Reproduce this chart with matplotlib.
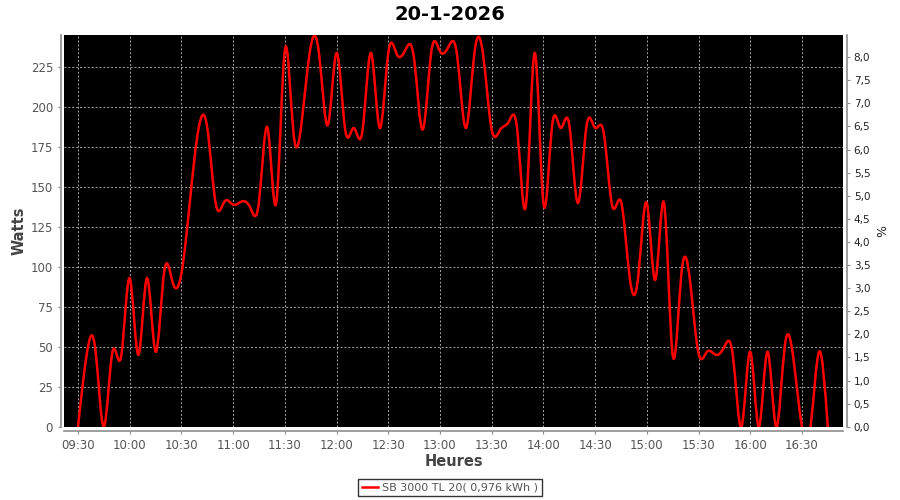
import numpy as np
import matplotlib
matplotlib.use("Agg")
import matplotlib.pyplot as plt
from matplotlib.path import Path
from matplotlib.patches import PathPatch
from matplotlib.lines import Line2D
from matplotlib.ticker import FixedLocator, FixedFormatter

# ---------------- data ----------------
title = "20-1-2026"
series_label = "SB 3000 TL 20( 0,976 kWh )"
x_label = "Heures"
y_label = "Watts"
y2_label = "%"

times = ["09:30", "09:35", "09:40", "09:45", "09:50", "09:55",
         "10:00", "10:05", "10:10", "10:15", "10:20", "10:25",
         "10:30", "10:35", "10:40", "10:45", "10:50", "10:55",
         "11:00", "11:05", "11:10", "11:15", "11:20", "11:25",
         "11:30", "11:35", "11:40", "11:45", "11:50", "11:55",
         "12:00", "12:05", "12:10", "12:15", "12:20", "12:25",
         "12:30", "12:35", "12:40", "12:45", "12:50", "12:55",
         "13:00", "13:05", "13:10", "13:15", "13:20", "13:25",
         "13:30", "13:35", "13:40", "13:45", "13:50", "13:55",
         "14:00", "14:05", "14:10", "14:15", "14:20", "14:25",
         "14:30", "14:35", "14:40", "14:45", "14:50", "14:55",
         "15:00", "15:05", "15:10", "15:15", "15:20", "15:25",
         "15:30", "15:35", "15:40", "15:45", "15:50", "15:55",
         "16:00", "16:05", "16:10", "16:15", "16:20", "16:25",
         "16:30", "16:35", "16:40", "16:45"]

watts = [0, 45, 49, 0, 47, 44,
         93, 45, 93, 47, 97, 90,
         96, 142, 187, 187, 139, 141,
         139, 141, 137, 141, 187, 140,
         236, 184, 193, 238, 232, 189,
         234, 186, 187, 185, 234, 187,
         234, 233, 236, 230, 186, 235,
         235, 238, 232, 187, 234, 233,
         186, 186, 191, 184, 140, 234,
         140, 188, 187, 189, 140, 188,
         187, 184, 138, 141, 94, 94,
         140, 92, 140, 45, 95, 92,
         46, 47, 45, 50, 44, 0,
         47, 0, 47, 0, 50, 43,
         0, 0, 47, 0]

x_tick_labels = ["09:30", "10:00", "10:30", "11:00", "11:30", "12:00", "12:30",
                 "13:00", "13:30", "14:00", "14:30", "15:00", "15:30", "16:00",
                 "16:30"]
y_ticks = [0, 25, 50, 75, 100, 125, 150, 175, 200, 225]
y2_ticks = [0.0, 0.5, 1.0, 1.5, 2.0, 2.5, 3.0, 3.5, 4.0, 4.5, 5.0, 5.5,
            6.0, 6.5, 7.0, 7.5, 8.0, 8.5]


def to_min(s):
    h, m = s.split(":")
    return int(h) * 60 + int(m)


x = np.array([to_min(t) for t in times], dtype=float)
y = np.array(watts, dtype=float)
xt = [to_min(t) for t in x_tick_labels]


# natural cubic spline rendering (like a spline renderer), drawn as Bezier path
def spline_path(x, y):
    n = len(x)
    h = np.diff(x)
    A = np.zeros((n, n))
    r = np.zeros(n)
    A[0, 0] = 1
    A[-1, -1] = 1
    for i in range(1, n - 1):
        A[i, i - 1] = h[i - 1] / 6
        A[i, i] = (h[i - 1] + h[i]) / 3
        A[i, i + 1] = h[i] / 6
        r[i] = (y[i + 1] - y[i]) / h[i] - (y[i] - y[i - 1]) / h[i - 1]
    M = np.linalg.solve(A, r)
    verts = [(x[0], y[0])]
    codes = [Path.MOVETO]
    for i in range(n - 1):
        s = (y[i + 1] - y[i]) / h[i]
        d0 = s - h[i] * (2 * M[i] + M[i + 1]) / 6
        d1 = s + h[i] * (M[i] + 2 * M[i + 1]) / 6
        verts += [(x[i] + h[i] / 3, y[i] + d0 * h[i] / 3),
                  (x[i + 1] - h[i] / 3, y[i + 1] - d1 * h[i] / 3),
                  (x[i + 1], y[i + 1])]
        codes += [Path.CURVE4] * 3
    return Path(verts, codes)


# ---------------- figure ----------------
plt.rcParams["font.family"] = ["DejaVu Sans"]
fig = plt.figure(figsize=(9, 5), dpi=100, facecolor="white")
ax = fig.add_axes([0.0708, 0.1466, 0.8662, 0.7834])
ax.set_facecolor("black")

ax.add_patch(PathPatch(spline_path(x, y), facecolor="none", edgecolor="#ff0000",
                       lw=1.8, joinstyle="round", capstyle="round"))

ax.set_xlim(561.7, 1014)
ax.set_ylim(0, 245.2)

ax.xaxis.set_major_locator(FixedLocator(xt))
ax.xaxis.set_major_formatter(FixedFormatter(x_tick_labels))
ax.yaxis.set_major_locator(FixedLocator(y_ticks))

grid_kw = dict(color="#a8a8a8", linestyle=(0, (2, 2)), linewidth=0.7)
ax.grid(True, **grid_kw)
ax.set_axisbelow(True)

for side in ["top", "right"]:
    ax.spines[side].set_visible(False)
ax.spines["left"].set_position(("outward", 2.2))
ax.spines["bottom"].set_position(("outward", 3))
for side in ["left", "bottom"]:
    ax.spines[side].set_color("#8c8c8c")
    ax.spines[side].set_linewidth(1.2)

ax.tick_params(axis="both", colors="#8c8c8c", labelcolor="#555555",
               labelsize=8.5, length=2.5, width=0.8, pad=3)

ax.set_xlabel(x_label, fontsize=10.5, fontweight="bold", color="#444444",
              labelpad=2)
ax.set_ylabel(y_label, fontsize=10.5, fontweight="bold", color="#444444",
              labelpad=3)

ax2 = ax.twinx()
ax2.set_ylim(0, 8.48)
ax2.yaxis.set_major_locator(FixedLocator(y2_ticks))
ax2.yaxis.set_major_formatter(FixedFormatter(
    [("%.1f" % v).replace(".", ",") for v in y2_ticks]))
for side in ["top", "left", "bottom"]:
    ax2.spines[side].set_visible(False)
ax2.spines["right"].set_position(("outward", 3))
ax2.spines["right"].set_color("#8c8c8c")
ax2.spines["right"].set_linewidth(1.2)
ax2.tick_params(axis="y", colors="#8c8c8c", labelcolor="#222222",
                labelsize=7.5, length=2.5, width=0.8, pad=2)
ax2.set_ylabel(y2_label, fontsize=9, color="#222222", labelpad=4)

fig.suptitle(title, fontsize=14, fontweight="bold", y=0.99, va="top")

handle = Line2D([], [], color="#ff0000", lw=1.8)
leg = fig.legend([handle], [series_label], loc="center",
                 bbox_to_anchor=(0.5, 1 - 487.5 / 500), frameon=True,
                 fancybox=False, shadow=False, fontsize=8, handlelength=1.4,
                 handletextpad=0.4, borderpad=0.35, borderaxespad=0)
leg.get_frame().set_edgecolor("black")
leg.get_frame().set_linewidth(1.0)
for t in leg.get_texts():
    t.set_color("#555555")

fig.savefig("out.png", dpi=100, facecolor="white")
